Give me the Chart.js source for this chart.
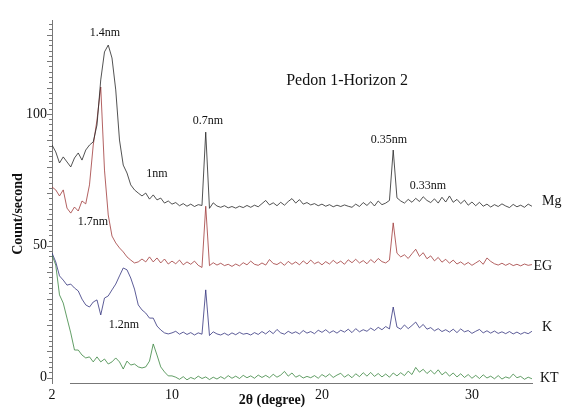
<!DOCTYPE html>
<html>
<head>
<meta charset="utf-8">
<script src="https://cdn.jsdelivr.net/npm/chart.js@4/dist/chart.umd.min.js"></script>
<style>
html,body{margin:0;padding:0;background:#fff;}
#wrap{width:563px;height:409px;}
</style>
</head>
<body>
<div id="wrap"><canvas id="c" width="563" height="409"></canvas></div>
<script>
// 2θ sampling (degrees), evenly spaced at 0.25° from 2 to 34
const thetaStart = 2, thetaStep = 0.25, thetaCount = 129;
const twoTheta = Array.from({length: thetaCount}, (_, i) => thetaStart + thetaStep * i);

const seriesNames = ["Mg", "EG", "K", "KT"];

const mgCounts = [
  88.2, 85.6, 81.4, 83.7, 81.8, 79.9, 83.3, 85.2, 82.5, 86.3, 88.2, 89.4, 95.8, 112.9, 123.5, 126.1,
  121.2, 109.1, 90.1, 80.6, 77.6, 73.1, 71.2, 70.0, 68.9, 70.0, 67.7, 69.3, 67.4, 68.1, 66.2, 67.0, 65.8,
  66.4, 65.2, 66.0, 65.0, 65.8, 64.9, 65.6, 65.3, 93.1, 64.2, 66.3, 65.1, 64.6, 65.2, 64.4, 64.9,
  64.3, 65.0, 64.5, 65.3, 64.6, 65.4, 64.8, 66.0, 67.2, 65.5, 66.3, 65.2, 66.5, 65.4, 66.8, 67.9,
  66.2, 67.5, 65.8, 66.4, 65.5, 66.0, 65.2, 65.8, 65.0, 65.6, 64.8, 65.4, 64.9, 65.5, 65.0, 64.6,
  65.8, 64.9, 66.4, 65.3, 66.7, 65.1, 67.0, 65.6, 66.2, 67.2, 86.3, 68.2, 67.0, 66.2, 67.6, 66.5,
  68.0, 66.8, 68.6, 67.2, 66.4, 67.8, 66.2, 68.4, 66.6, 68.9, 66.5, 67.6, 66.0, 67.3, 65.4, 66.6,
  65.2, 66.5, 65.0, 65.8, 64.7, 65.6, 64.9, 65.9, 65.1, 64.5, 65.7, 64.8, 65.4, 64.6, 65.8, 65.0
];
const egCounts = [
  72.3, 71.2, 68.9, 71.2, 64.3, 62.4, 64.7, 63.2, 67.0, 65.9, 73.1, 88.2, 97.7, 110.2, 78.7, 61.7,
  53.7, 51.1, 49.2, 47.7, 45.8, 44.6, 43.5, 43.9, 45.0, 43.9, 45.8, 43.9, 45.4, 43.5, 45.0, 43.1, 44.2,
  43.2, 44.6, 42.8, 43.9, 43.0, 44.2, 42.6, 41.8, 65.0, 42.5, 43.6, 42.7, 43.4, 42.5, 43.0, 42.2,
  43.1, 42.4, 43.6, 42.8, 44.2, 43.0, 42.6, 43.5, 42.7, 44.8, 43.3, 42.9, 43.8, 42.6, 44.1, 43.0,
  43.9, 42.8, 44.3, 43.1, 44.6, 43.2, 43.9, 42.8, 44.0, 43.1, 44.5, 43.3, 44.2, 43.0, 44.7, 43.6,
  44.9, 43.5, 44.4, 43.2, 44.8, 43.6, 45.2, 44.0, 43.5, 44.6, 58.7, 47.2, 45.8, 46.6, 45.2, 47.0,
  48.7, 46.0, 47.4, 45.1, 46.2, 44.3, 45.6, 43.8, 44.9, 43.4, 44.6, 43.1, 43.9, 42.8, 43.7, 42.6,
  43.5, 44.4, 43.0, 45.4, 44.1, 43.2, 42.7, 43.4, 42.6, 43.3, 42.5, 43.0, 42.4, 43.1, 42.6, 42.9
];
const kCounts = [
  47.3, 43.9, 38.6, 37.0, 35.1, 35.5, 34.0, 32.9, 29.8, 27.6, 26.8, 28.7, 29.5, 23.8, 30.2, 31.0,
  33.3, 35.5, 38.6, 41.6, 40.9, 37.8, 33.6, 27.6, 25.7, 24.5, 22.6, 22.6, 19.6, 18.1, 17.0, 16.6, 17.0,
  17.6, 16.5, 17.3, 16.4, 17.1, 16.2, 17.0, 16.5, 33.3, 16.0, 17.4, 16.6, 16.2, 16.9, 16.1, 17.0,
  16.3, 17.2, 16.5, 16.8, 16.2, 17.1, 16.4, 17.5, 16.6, 17.8, 16.7, 18.3, 17.0, 16.5, 17.6, 16.8,
  17.4, 16.6, 17.9, 16.9, 17.5, 16.7, 18.0, 17.2, 18.2, 17.0, 17.8, 16.9, 18.0, 17.3, 18.4, 17.1,
  18.6, 17.4, 18.2, 17.6, 18.8, 17.9, 19.1, 18.2, 19.4, 18.5, 26.8, 19.2, 18.4, 20.0, 18.6, 19.8,
  21.1, 18.9, 20.2, 18.4, 19.0, 17.8, 18.6, 17.5, 18.2, 17.3, 18.4, 17.1, 18.5, 17.4, 17.9, 16.8,
  17.6, 18.3, 17.0, 17.8, 16.9, 17.7, 16.8, 17.4, 16.7, 17.5, 16.6, 17.3, 16.5, 17.2, 16.7, 17.6
];
const ktCounts = [
  46.5, 42.7, 31.4, 28.3, 22.6, 17.0, 10.5, 10.5, 8.6, 7.5, 7.9, 6.0, 7.9, 6.0, 7.1, 5.2,
  6.0, 7.5, 6.0, 3.3, 6.3, 4.8, 5.2, 4.1, 3.7, 4.1, 6.3, 12.8, 8.6, 4.1, 2.2, 0.7, 0.7,
  0.2, -0.6, 0.4, -0.8, 0.1, -0.5, 0.6, -0.3, 0.3, -0.7, 0.2, -0.5, 0.4, -0.4, 0.8, -0.2,
  0.6, -0.3, 0.9, 0.0, 0.7, -0.2, 1.0, 0.1, 0.9, 0.0, 1.3, 0.2, 1.0, 2.4, 0.6, 1.8,
  0.2, 0.9, -0.1, 0.5, 0.0, 0.8, -0.2, 1.2, 0.3, 1.4, 0.1, 1.0, 1.7, 0.2, 1.2, 0.0,
  1.5, 0.4, 1.9, 0.6, 2.0, 0.5, 1.6, 0.3, 1.4, 0.2, 1.8, 0.7, 1.9, 0.8, 2.5, 1.2,
  3.9, 2.1, 3.2, 1.6, 2.8, 1.4, 3.0, 1.1, 2.2, 0.6, 1.8, 0.3, 1.5, 0.1, 1.2, -0.2,
  0.9, -0.3, 1.1, -0.1, 0.6, -0.4, 0.8, -0.5, 0.3, -0.2, 1.4, 0.0, 0.5, -0.6, 0.2, -0.4
];

const xTickValues = [2, 10, 20, 30];
const yTickLabels = [0, 50, 100];

// peak annotations: [text, 2θ, count]
const peakLabels = [
  ["1.4nm", 5.53, 130.7],
  ["1nm", 9.0, 77.2],
  ["0.7nm", 12.4, 97.3],
  ["0.35nm", 24.47, 90.1],
  ["0.33nm", 27.07, 72.7],
  ["1.7nm", 4.73, 59.0],
  ["1.2nm", 6.8, 20.0]
];
const chartTitle = "Pedon 1-Horizon 2";
const titlePos = [21.67, 112.5];
// series name labels at the right end: [text, 2θ, count]
const seriesLabels = [
  ["Mg", 34.67, 67.0],
  ["EG", 34.1, 42.4],
  ["K", 34.67, 19.2],
  ["KT", 34.53, -0.1]
];

const colors = ["#262626", "#a03a3a", "#33337e", "#3a853f"];
const allCounts = [mgCounts, egCounts, kCounts, ktCounts];

const datasets = seriesNames.map((name, s) => ({
  label: name,
  data: twoTheta.map((t, i) => ({x: t, y: allCounts[s][i]})),
  borderColor: colors[s],
  borderWidth: 0.8,
  pointRadius: 0,
  tension: 0,
  fill: false
}));

const SERIF = "'Liberation Serif','DejaVu Serif',serif";

const overlay = {
  id: 'overlay',
  afterDraw(chart) {
    const {ctx, chartArea: ca, scales: {x, y}} = chart;
    ctx.save();
    // x-axis baseline (starts a little right of the y axis, like the original)
    ctx.strokeStyle = '#777';
    ctx.lineWidth = 1;
    ctx.beginPath();
    ctx.moveTo(x.getPixelForValue(3.2), Math.round(ca.bottom) + 0.5);
    ctx.lineTo(ca.right, Math.round(ca.bottom) + 0.5);
    ctx.stroke();
    // y-axis ticks: major every 10, minor every 2
    ctx.beginPath();
    for (let v = 0; v <= 134; v += 2) {
      const py = Math.round(y.getPixelForValue(v)) + 0.5;
      const len = (v % 10 === 0) ? 5 : 3;
      ctx.moveTo(ca.left - len, py);
      ctx.lineTo(ca.left, py);
    }
    ctx.stroke();

    ctx.fillStyle = '#111';
    ctx.textAlign = 'center';
    ctx.textBaseline = 'middle';
    ctx.font = "12px " + SERIF;
    peakLabels.forEach(([t, px, py]) => {
      ctx.fillText(t, x.getPixelForValue(px), y.getPixelForValue(py));
    });
    ctx.font = "16px " + SERIF;
    ctx.fillText(chartTitle, x.getPixelForValue(titlePos[0]), y.getPixelForValue(titlePos[1]));
    ctx.font = "14px " + SERIF;
    ctx.textAlign = 'left';
    seriesLabels.forEach(([t, px, py]) => {
      ctx.fillText(t, x.getPixelForValue(px), y.getPixelForValue(py));
    });
    // axis titles
    ctx.textAlign = 'center';
    ctx.font = "bold 14px " + SERIF;
    ctx.fillText("2θ (degree)", 272, 400);
    ctx.translate(18, 214);
    ctx.rotate(-Math.PI / 2);
    ctx.fillText("Count/second", 0, 0);
    ctx.restore();
  }
};

new Chart(document.getElementById('c'), {
  type: 'line',
  data: {datasets},
  options: {
    responsive: false,
    animation: false,
    events: [],
    layout: {padding: {top: 20, right: 30, left: 0, bottom: 0}},
    plugins: {legend: {display: false}, tooltip: {enabled: false}},
    scales: {
      x: {
        type: 'linear',
        min: 2,
        max: 34.07,
        afterFit: s => { s.height = 26; },
        afterBuildTicks: s => { s.ticks = xTickValues.map(v => ({value: v})); },
        grid: {display: false, drawTicks: false},
        border: {display: false},
        ticks: {
          padding: 4,
          color: '#111',
          font: {family: SERIF, size: 14},
          maxRotation: 0,
          callback: v => String(v)
        }
      },
      y: {
        type: 'linear',
        min: -2,
        max: 135.6,
        afterFit: s => { s.width = 52; },
        afterBuildTicks: s => { s.ticks = yTickLabels.map(v => ({value: v})); },
        grid: {display: false, drawTicks: false},
        border: {display: true, color: '#777', width: 1},
        ticks: {
          padding: 5,
          color: '#111',
          font: {family: SERIF, size: 14},
          callback: v => String(v)
        }
      }
    }
  },
  plugins: [overlay]
});
</script>
</body>
</html>
